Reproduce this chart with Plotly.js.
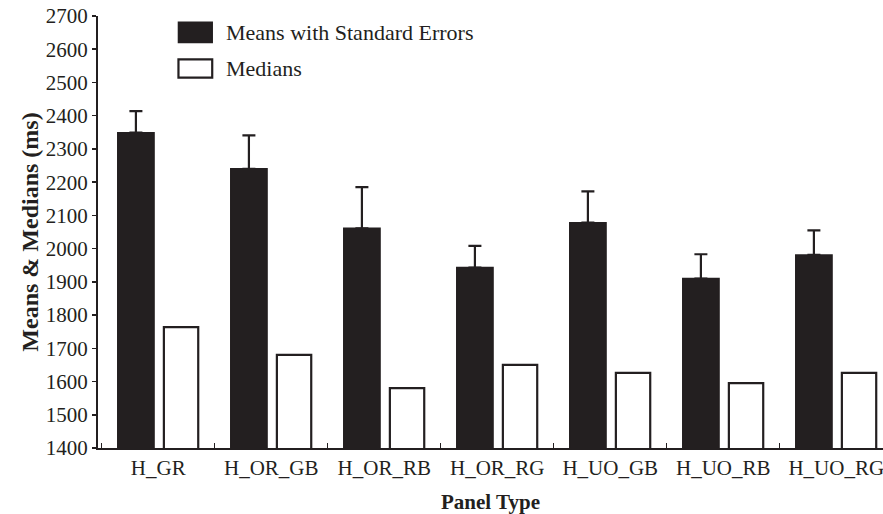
<!DOCTYPE html>
<html>
<head>
<meta charset="utf-8">
<script src="https://cdn.plot.ly/plotly-3.0.1.min.js"></script>
<style>html,body{margin:0;padding:0;background:#fff;}#chart{width:883px;height:514px;}</style>
</head>
<body>
<div id="chart"></div>
<script>
const categories = ["H_GR", "H_OR_GB", "H_OR_RB", "H_OR_RG", "H_UO_GB", "H_UO_RB", "H_UO_RG"];
const means = [2349, 2240, 2061, 1943, 2078, 1910, 1981];
const standardErrors = [65, 101, 124, 65, 94, 73, 74];
const medians = [1764, 1680, 1580, 1650, 1626, 1595, 1626];
const yTicks = [1400, 1500, 1600, 1700, 1800, 1900, 2000, 2100, 2200, 2300, 2400, 2500, 2600, 2700];
const seriesNames = ["Means with Standard Errors", "Medians"];

const ink = "#231f20";
const font = "Liberation Serif, Times New Roman, serif";

const traces = [
  {
    type: "bar",
    name: seriesNames[0],
    x: categories,
    y: means,
    width: 0.321,
    offset: -0.358,
    marker: {color: ink, line: {color: ink, width: 1.5}},
    error_y: {type: "data", symmetric: false, array: standardErrors, arrayminus: standardErrors.map(() => 0),
              color: ink, thickness: 2.2, width: 6.5}
  },
  {
    type: "bar",
    name: seriesNames[1],
    x: categories,
    y: medians,
    width: 0.304,
    offset: 0.05,
    marker: {color: "#ffffff", line: {color: ink, width: 2.2}}
  }
];

// custom legend (large swatches like the reference)
const legendShapes = [
  {type: "rect", xref: "paper", yref: "paper", x0: 0.1025, x1: 0.1455, y0: 0.9385, y1: 0.9855,
   fillcolor: ink, line: {color: ink, width: 1.5}},
  {type: "rect", xref: "paper", yref: "paper", x0: 0.1025, x1: 0.1455, y0: 0.8575, y1: 0.8995,
   fillcolor: "#ffffff", line: {color: ink, width: 2.2}}
];
const legendTexts = [
  {xref: "paper", yref: "paper", x: 0.1605, y: 0.962, xanchor: "left", yanchor: "middle", showarrow: false,
   text: seriesNames[0], font: {family: font, size: 22, color: ink}},
  {xref: "paper", yref: "paper", x: 0.1605, y: 0.8785, xanchor: "left", yanchor: "middle", showarrow: false,
   text: seriesNames[1], font: {family: font, size: 22, color: ink}}
];

const layout = {
  width: 883,
  height: 514,
  margin: {l: 98, r: 0, t: 16, b: 66},
  paper_bgcolor: "#fff",
  plot_bgcolor: "#fff",
  font: {family: font, color: ink, size: 21},
  showlegend: false,
  shapes: legendShapes,
  annotations: legendTexts,
  xaxis: {
    type: "category",
    range: [-0.533, 6.414],
    showline: true, linecolor: ink, linewidth: 2,
    ticks: "inside", tickson: "boundaries", ticklen: 5, tickwidth: 1.5, tickcolor: ink,
    showgrid: false, zeroline: false,
    tickfont: {family: font, size: 21, color: ink},
    title: {text: "<b>Panel Type</b>", font: {family: font, size: 21, color: ink}, standoff: 17}
  },
  yaxis: {
    range: [1400, 2700],
    tickvals: yTicks,
    ticktext: yTicks.map(String),
    showline: true, linecolor: ink, linewidth: 2,
    ticks: "outside", ticklen: 4, tickwidth: 1.5, tickcolor: ink,
    showgrid: false, zeroline: false,
    tickfont: {family: font, size: 21, color: ink},
    title: {text: "<b>Means &amp; Medians (ms)</b>", font: {family: font, size: 24, color: ink}, standoff: 0}
  }
};

Plotly.newPlot("chart", traces, layout, {displayModeBar: false, staticPlot: true});
</script>
</body>
</html>
